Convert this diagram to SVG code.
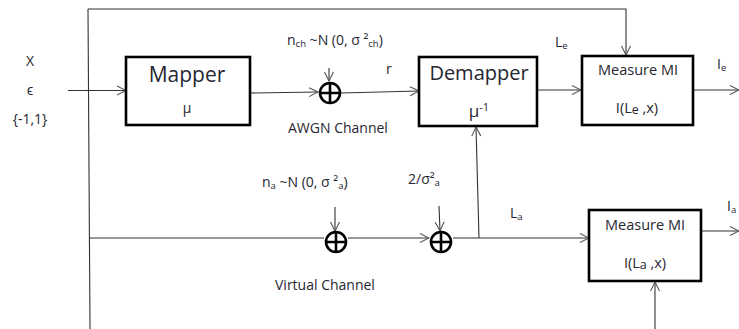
<svg xmlns="http://www.w3.org/2000/svg" width="739" height="329" viewBox="0 0 739 329">
<style>
text{font-family:"Open Sans","Liberation Sans",sans-serif;fill:#262630}
.s{font-size:14px}
.m{font-size:14.5px}
.big{font-size:20px}
.box{fill:#fff;stroke:#000;stroke-width:2.6}
.ln{fill:none;stroke:#333;stroke-width:1.1}
.sum{fill:none;stroke:#000;stroke-width:2.6}
.sub{font-size:9.5px}
</style>
<defs>
<marker id="ah" markerUnits="userSpaceOnUse" markerWidth="12" markerHeight="12" viewBox="0 0 12 12" refX="11" refY="6" orient="auto">
<path d="M2,1.5 L11,6 L2,10.5" fill="none" stroke="#555" stroke-width="1.1"/>
</marker>
</defs>
<g id="connectors">
<path class="ln" d="M88,9 L626,9 L626,55" marker-end="url(#ah)"/>
<path class="ln" d="M88,9 L90,329"/>
<path class="ln" d="M68,90.5 L126,90.5" marker-end="url(#ah)"/>
<path class="ln" d="M250,93 L318,92" marker-end="url(#ah)"/>
<path class="ln" d="M329,68 L329,81" marker-end="url(#ah)"/>
<path class="ln" d="M341,93 L419,91" marker-end="url(#ah)"/>
<path class="ln" d="M537,90 L581,90" marker-end="url(#ah)"/>
<path class="ln" d="M693,90 L739,90" marker-end="url(#ah)"/>
<path class="ln" d="M90,238 L324,238"/>
<path class="ln" d="M335,207 L335,231" marker-end="url(#ah)"/>
<path class="ln" d="M348,238 L429,238" marker-end="url(#ah)"/>
<path class="ln" d="M439,206 L440,231" marker-end="url(#ah)"/>
<path class="ln" d="M453,238 L589,238" marker-end="url(#ah)"/>
<path class="ln" d="M479,238 L476,127" marker-end="url(#ah)"/>
<path class="ln" d="M701,231 L739,231" marker-end="url(#ah)"/>
<path class="ln" d="M655,329 L655,282" marker-end="url(#ah)"/>
</g>
<g id="input">
<text class="s" x="30" y="66" text-anchor="middle">X</text>
<text class="s" x="30" y="95" text-anchor="middle">ϵ</text>
<text class="s" x="30" y="124" text-anchor="middle">{-1,1}</text>
</g>
<g id="mapper">
<rect class="box" x="126" y="57" width="124" height="68"/>
<text class="big" x="187" y="82" text-anchor="middle" style="font-size:21px">Mapper</text>
<text class="s" x="187" y="113" text-anchor="middle">μ</text>
</g>
<g id="awgn-sum">
<circle class="sum" cx="330" cy="93" r="10"/>
<path class="sum" d="M320,93 H340 M330,83 V103"/>
<text class="s" x="287" y="45">n<tspan class="sub" dy="2">ch</tspan><tspan dy="-2"> ~N (0, σ ²</tspan><tspan class="sub" dy="2">ch</tspan><tspan dy="-2">)</tspan></text>
<text class="s" x="288" y="133">AWGN Channel</text>
<text class="s" x="386" y="74">r</text>
</g>
<g id="demapper">
<rect class="box" x="419" y="57" width="118" height="69"/>
<text class="big" x="479" y="80" text-anchor="middle">Demapper</text>
<text x="479" y="117" text-anchor="middle" style="font-size:17px">μ<tspan style="font-size:11px" dy="-6">-1</tspan></text>
<text class="s" x="555" y="47">L<tspan class="sub" dy="2">e</tspan></text>
</g>
<g id="measure-mi-e">
<rect class="box" x="582" y="56" width="111" height="69"/>
<text class="m" x="638" y="75" text-anchor="middle">Measure MI</text>
<text class="m" x="637" y="113" text-anchor="middle">I(L<tspan dy="1" style="font-size:12.5px">e</tspan><tspan dy="-1"> ,x)</tspan></text>
<text class="s" x="717" y="69">I<tspan class="sub" dy="2">e</tspan></text>
</g>
<g id="virtual-sum">
<circle class="sum" cx="336" cy="242" r="10"/>
<path class="sum" d="M326,242 H346 M336,232 V252"/>
<text class="s" x="262" y="187">n<tspan class="sub" dy="2">a</tspan><tspan dy="-2"> ~N (0, σ ²</tspan><tspan class="sub" dy="2">a</tspan><tspan dy="-2">)</tspan></text>
<text class="s" x="275" y="290">Virtual Channel</text>
</g>
<g id="scale-sum">
<circle class="sum" cx="441" cy="242" r="10"/>
<path class="sum" d="M431,242 H451 M441,232 V252"/>
<text class="s" x="408" y="184">2/σ²<tspan class="sub" dy="2">a</tspan></text>
<text class="s" x="510" y="218">L<tspan class="sub" dy="2">a</tspan></text>
</g>
<g id="measure-mi-a">
<rect class="box" x="589" y="210" width="112" height="71"/>
<text class="m" x="645" y="230" text-anchor="middle">Measure MI</text>
<text class="m" x="645" y="268" text-anchor="middle">I(L<tspan dy="1" style="font-size:12.5px">a</tspan><tspan dy="-1"> ,x)</tspan></text>
<text class="s" x="727" y="211">I<tspan class="sub" dy="2">a</tspan></text>
</g>
</svg>
